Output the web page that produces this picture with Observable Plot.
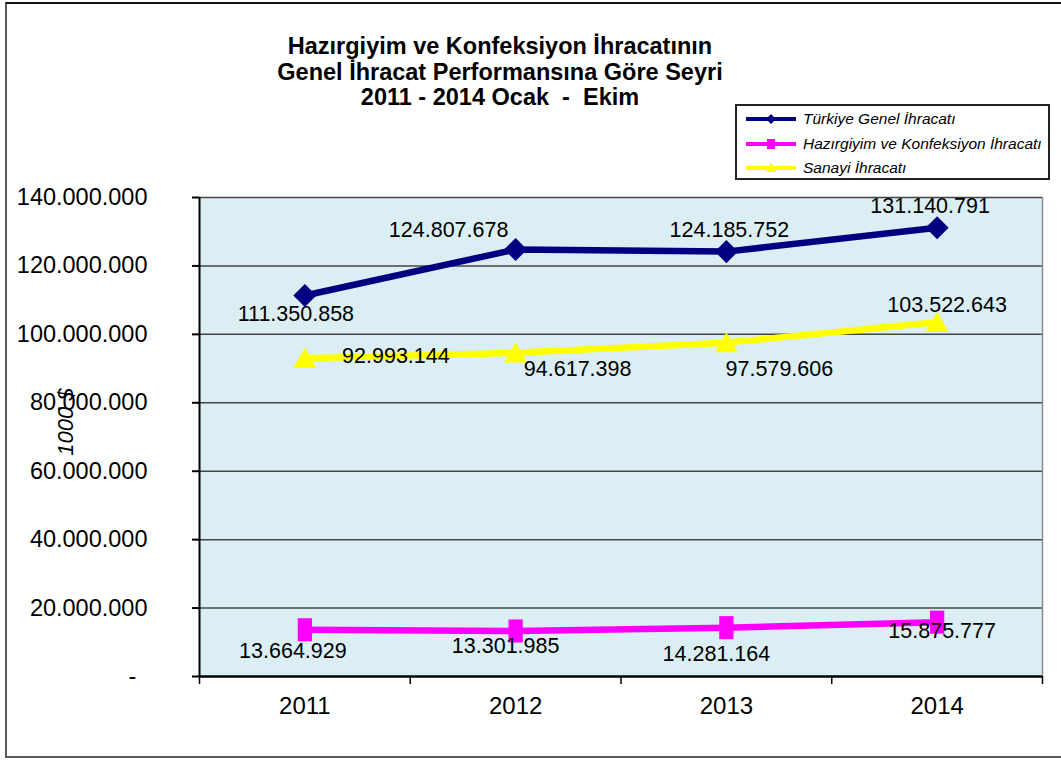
<!DOCTYPE html>
<html><head><meta charset="utf-8">
<script src="https://cdn.jsdelivr.net/npm/d3@7"></script>
<script src="https://cdn.jsdelivr.net/npm/@observablehq/plot@0.6"></script>
<style>
body{margin:0;background:#fff;font-family:"Liberation Sans",Arial,sans-serif;}
#wrap{position:relative;width:1061px;height:762px;overflow:hidden;}
#chart{position:absolute;left:0;top:0;}
#frame{position:absolute;left:5px;top:2px;width:1070px;height:752px;border:2px solid #5a5a5a;border-top-color:#111;pointer-events:none;}
#title{position:absolute;left:150px;width:700px;top:34px;text-align:center;font-weight:bold;font-size:23.5px;line-height:25.5px;color:#000;white-space:pre;}
#legend{position:absolute;left:735px;top:104px;width:311px;height:72px;border:2px solid #222;background:#fff;font-style:italic;font-size:15.5px;}
#legend .row{position:absolute;left:8px;height:24px;display:flex;align-items:center;white-space:nowrap;}
#legend svg{margin-right:6px;}
#ylabel{position:absolute;left:66px;top:422px;transform:translate(-50%,-50%) rotate(-90deg);font-style:italic;font-size:22px;white-space:nowrap;}
</style>
</head><body>
<div id="wrap">
  <div id="chart"></div>
  <div id="frame"></div>
  <div id="title"></div>
  <div id="legend"></div>
  <div id="ylabel"></div>
</div>
<script>
const years = [2011, 2012, 2013, 2014];
const seriesNames = ["Türkiye Genel İhracatı", "Hazırgiyim ve Konfeksiyon İhracatı", "Sanayi İhracatı"];
const turkiye = [111350858, 124807678, 124185752, 131140791];
const hazir = [13664929, 13301985, 14281164, 15875777];
const sanayi = [92993144, 94617398, 97579606, 103522643];
const yTicks = [0, 20000000, 40000000, 60000000, 80000000, 100000000, 120000000, 140000000];
const titleLines = ["Hazırgiyim ve Konfeksiyon İhracatının", "Genel İhracat Performansına Göre Seyri", "2011 - 2014 Ocak  -  Ekim"];
const yLabel = "1000 $";

// label offsets (styling), per series per year: [dx, dy]
const offTurkiye = [[-9, 19], [-67, -19], [3, -21], [-7, -22]];
const offHazir = [[-12, 21], [-10, 15], [-10, 26], [5, 9]];
const offSanayi = [[91, -2], [62, 16], [53, 26], [10, -17]];

const colors = ["#000080", "#FF00FF", "#FFFF00"];
const fmt = d => d === 0 ? "-\u00a0\u2009" : d3.format(",")(d).replace(/,/g, ".");

const seriesValues = [turkiye, hazir, sanayi];
const offsets = [offTurkiye, offHazir, offSanayi];
const rows = seriesValues.flatMap((vals, s) => years.map((y, i) => ({series: seriesNames[s], year: y, value: vals[i], s, i})));

const rectSymbol = {draw(ctx, size) { const s = Math.sqrt(size); const w = s * 0.62, h = s; ctx.moveTo(-w/2, -h/2); ctx.lineTo(w/2, -h/2); ctx.lineTo(w/2, h/2); ctx.lineTo(-w/2, h/2); ctx.closePath(); }};
const symbols = ["diamond2", rectSymbol, "triangle"];
const radii = [10.4, 13, 8.6];
const symbolDy = [0, 0, 3];

const boundaries = [years[0] - 0.5, ...years.map(y => y + 0.5)];

const marks = [
  Plot.frame({fill: "#DBEEF3", stroke: "none"}),
  Plot.ruleY(yTicks.slice(1), {stroke: "#454545", strokeWidth: 1.5}),
  Plot.ruleX([boundaries[boundaries.length - 1]], {stroke: "#8a8a8a", strokeWidth: 1.5}),
  Plot.ruleX([boundaries[0]], {stroke: "#000", strokeWidth: 2}),
  Plot.ruleY([0], {stroke: "#000", strokeWidth: 2.5}),
  Plot.axisY({ticks: yTicks, tickFormat: fmt, tickSize: 7, tickPadding: 45, fontSize: 23.5, label: null, strokeWidth: 2, stroke: "#000"}),
  Plot.axisX({ticks: boundaries, tickSize: 8, tickFormat: () => "", label: null, strokeWidth: 1.5, stroke: "#000"}),
  Plot.axisX({ticks: years, tickSize: 0, tickPadding: 20, fontSize: 24, tickFormat: d => String(d), label: null}),
];
seriesNames.forEach((name, s) => {
  const data = rows.filter(r => r.s === s);
  marks.push(Plot.line(data, {x: "year", y: "value", stroke: colors[s], strokeWidth: 6.5}));
  marks.push(Plot.dot(data, {x: "year", y: "value", fill: colors[s], stroke: "none", symbol: () => symbols[s], r: radii[s], dy: symbolDy[s]}));
});
rows.forEach(r => {
  const [dx, dy] = offsets[r.s][r.i];
  marks.push(Plot.text([r], {x: "year", y: "value", text: d => fmt(d.value), dx, dy, fontSize: 21.5, fill: "#000"}));
});

const chart = Plot.plot({
  width: 1061, height: 762,
  marginLeft: 199, marginRight: 19, marginTop: 197, marginBottom: 86,
  x: {type: "linear", domain: [boundaries[0], boundaries[boundaries.length - 1]]},
  y: {domain: [yTicks[0], yTicks[yTicks.length - 1]]},
  symbol: {type: "identity"},
  style: {fontFamily: "'Liberation Sans', Arial, sans-serif", background: "transparent", color: "#000"},
  marks
});
document.getElementById("chart").appendChild(chart);

document.getElementById("title").innerHTML = titleLines.map(t => `<div>${t}</div>`).join("");
document.getElementById("ylabel").textContent = yLabel;

const legend = document.getElementById("legend");
const markerSvg = [
  c => `<polygon points="26,1 31,6 26,11 21,6" fill="${c}"/>`,
  c => `<rect x="22" y="1" width="8" height="10" fill="${c}"/>`,
  c => `<polygon points="26,1 31,10 21,10" fill="${c}"/>`
];
seriesNames.forEach((name, s) => {
  const row = document.createElement("div");
  row.className = "row";
  row.style.top = (1 + s * 24.5) + "px";
  row.innerHTML = `<svg width="52" height="12"><line x1="1" y1="6" x2="51" y2="6" stroke="${colors[s]}" stroke-width="4"/>${markerSvg[s](colors[s])}</svg><span>${name}</span>`;
  legend.appendChild(row);
});
</script>
</body></html>
